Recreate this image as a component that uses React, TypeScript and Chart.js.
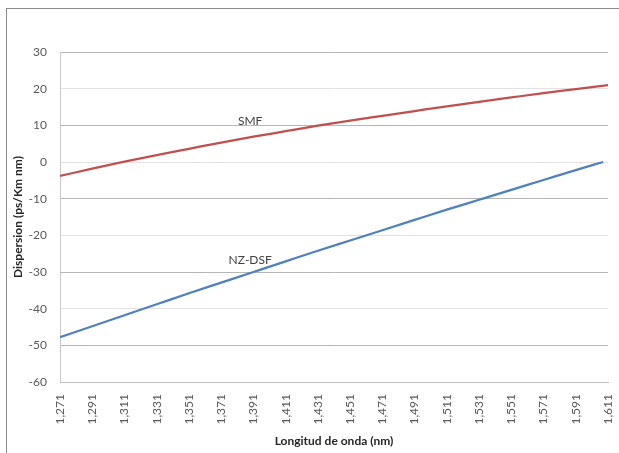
import React, { useEffect, useRef } from "react";
import { Chart, registerables } from "chart.js";

Chart.register(...registerables);

// Wavelength ticks (µm, shown with comma decimals)
const wavelengths = [
  1.271, 1.291, 1.311, 1.331, 1.351, 1.371, 1.391, 1.411, 1.431,
  1.451, 1.471, 1.491, 1.511, 1.531, 1.551, 1.571, 1.591, 1.611,
];
// NZ-DSF curve ends slightly before the last tick
const nzWavelengths = [
  1.271, 1.291, 1.311, 1.331, 1.351, 1.371, 1.391, 1.411, 1.431,
  1.451, 1.471, 1.491, 1.511, 1.531, 1.551, 1.571, 1.591, 1.608,
];
const smfValues = [
  -3.8, -1.8, 0.1, 1.9, 3.6, 5.3, 6.9, 8.4, 9.9,
  11.3, 12.6, 13.9, 15.2, 16.4, 17.6, 18.8, 19.9, 21.0,
];
const nzdsfValues = [
  -47.8, -44.8, -41.8, -38.8, -35.8, -32.9, -30.0, -27.1, -24.2,
  -21.4, -18.6, -15.8, -13.0, -10.3, -7.6, -4.9, -2.2, 0.0,
];
const yTicks = [-60, -50, -40, -30, -20, -10, 0, 10, 20, 30];
const seriesNames = ["SMF", "NZ-DSF"];
// Data-label anchors (in data units)
const labelX = [1.389, 1.389];
const labelY = [11.1, -26.8];

const FONT = "Lato, 'Open Sans', 'DejaVu Sans', sans-serif";

const seriesLabelPlugin = {
  id: "seriesLabels",
  afterDatasetsDraw(chart: any) {
    const { ctx, scales } = chart;
    ctx.save();
    ctx.font = `12px ${FONT}`;
    ctx.fillStyle = "#404040";
    ctx.textAlign = "center";
    ctx.textBaseline = "middle";
    seriesNames.forEach((name, i) => {
      const x = scales.x.getPixelForValue(labelX[i]);
      const y = scales.y.getPixelForValue(labelY[i]);
      ctx.fillText(name, x, y);
    });
    ctx.restore();
  },
};

export default function App() {
  const canvasRef = useRef<HTMLCanvasElement | null>(null);

  useEffect(() => {
    if (!canvasRef.current) return;
    const chart = new Chart(canvasRef.current, {
      type: "line",
      data: {
        datasets: [
          {
            label: seriesNames[0],
            data: wavelengths.map((x, i) => ({ x, y: smfValues[i] })),
            borderColor: "#c0504d",
            backgroundColor: "#c0504d",
            borderWidth: 2.25,
            pointRadius: 0,
            cubicInterpolationMode: "monotone",
          },
          {
            label: seriesNames[1],
            data: nzWavelengths.map((x, i) => ({ x, y: nzdsfValues[i] })),
            borderColor: "#4f81bd",
            backgroundColor: "#4f81bd",
            borderWidth: 2.25,
            pointRadius: 0,
            cubicInterpolationMode: "monotone",
          },
        ],
      },
      options: {
        responsive: false,
        animation: false,
        layout: { padding: { top: 52, right: 11, left: 0, bottom: 0 } },
        plugins: {
          legend: { display: false },
          tooltip: { enabled: false },
        },
        scales: {
          x: {
            type: "linear",
            min: wavelengths[0],
            max: wavelengths[wavelengths.length - 1],
            afterBuildTicks: (scale: any) => {
              scale.ticks = wavelengths.map((v) => ({ value: v }));
            },
            afterFit: (scale: any) => {
              scale.height = 71;
              scale.paddingLeft = 0;
              scale.paddingRight = 0;
            },
            grid: { display: false, drawTicks: false },
            border: { display: true, color: "#bebebe", width: 1 },
            ticks: {
              autoSkip: false,
              minRotation: 90,
              maxRotation: 90,
              padding: 12,
              color: "#595959",
              font: { family: FONT, size: 12 },
              callback: (v: any) => Number(v).toFixed(3).replace(".", ","),
            },
            title: {
              display: true,
              text: "Longitud de onda (nm)",
              color: "#262626",
              font: { family: FONT, size: 12, weight: "bold" },
              padding: { top: 0, bottom: 5 },
            },
          },
          y: {
            type: "linear",
            min: yTicks[0],
            max: yTicks[yTicks.length - 1],
            afterBuildTicks: (scale: any) => {
              scale.ticks = yTicks.map((v) => ({ value: v }));
            },
            afterFit: (scale: any) => {
              scale.width = 60;
            },
            grid: {
              drawTicks: false,
              color: (ctx: any) => {
                const v = ctx.tick ? ctx.tick.value : 0;
                if (v === yTicks[0]) return "#bebebe";
                const idx = yTicks.indexOf(v);
                return idx % 2 === 1 ? "#b6b6b6" : "#e2e2e2";
              },
            },
            border: { display: true, color: "#c8c8c8", width: 1 },
            ticks: {
              padding: 13,
              color: "#595959",
              font: { family: FONT, size: 12 },
            },
            title: {
              display: true,
              text: "Dispersion (ps/Km nm)",
              color: "#262626",
              font: { family: FONT, size: 12, weight: "bold" },
              padding: { top: 11, bottom: 0 },
            },
          },
        },
      },
      plugins: [seriesLabelPlugin],
    } as any);
    return () => chart.destroy();
  }, []);

  return (
    <div
      style={{
        position: "absolute",
        left: 0,
        top: 0,
        width: 619,
        height: 453,
        background: "#ffffff",
        overflow: "hidden",
      }}
    >
      <div
        style={{
          position: "absolute",
          left: 6,
          top: 8,
          width: 640,
          height: 480,
          borderTop: "1px solid #8c8c8c",
          borderLeft: "1px solid #8c8c8c",
        }}
      />
      <canvas
        ref={canvasRef}
        width={619}
        height={453}
        style={{ position: "absolute", left: 0, top: 0, width: 619, height: 453 }}
      />
    </div>
  );
}
